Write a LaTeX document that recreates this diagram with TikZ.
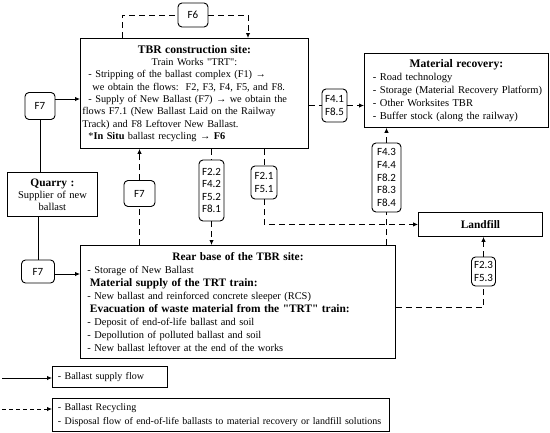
\documentclass[tikz,border=0pt]{standalone}
\usepackage{fontspec}
\setmainfont{Liberation Serif}
\newfontfamily\flowfont{Carlito}
\usetikzlibrary{arrows.meta}
\newcommand\dq{\XeTeXglyph\XeTeXcharglyph"22\relax}
\newcommand\bodyfont{\fontsize{10.3}{12.3}\selectfont}
\newcommand\headfont{\fontsize{11.6}{12.3}\selectfont\bfseries}
\begin{document}
\begin{tikzpicture}[x=1pt,y=-1pt,
  box/.style={draw, line width=0.9pt, inner sep=0pt, anchor=north west},
  flow/.style={draw, rounded corners=4pt, line width=0.9pt, font=\flowfont\fontsize{11}{12.6}\selectfont, align=left, inner sep=1pt},
  sol/.style={line width=0.9pt, -{Latex[length=5pt,width=4.5pt]}},
  plain/.style={line width=0.9pt},
  dsh/.style={line width=0.9pt, dash pattern=on 6pt off 4pt},
  dsha/.style={dsh, -{Latex[length=5pt,width=4.5pt]}},
  legdsh/.style={line width=0.9pt, dash pattern=on 4pt off 3pt, -{Latex[length=5pt,width=4.5pt]}}
]
\useasboundingbox (0,0) rectangle (550,432);

% main boxes
\node[box, minimum width=228pt, minimum height=110pt, text width=226pt, align=left,
      font=\bodyfont] (tbr) at (80,38) {%
\makebox[226pt]{\headfont TBR construction site:}\\
\makebox[226pt]{Train Works \dq{}TRT\dq{}:}\\
\hspace*{7pt}- Stripping of the ballast complex (F1) →\\
\hspace*{11pt}we obtain the flows:\ \ F2, F3, F4, F5, and F8.\\
\hspace*{7pt}- Supply of New Ballast (F7) → we obtain the\\
\hspace*{1pt}flows F7.1 (New Ballast Laid on the Railway\\
\hspace*{1pt}Track) and F8 Leftover New Ballast.\\
{\hspace*{7pt}*\textbf{In Situ} ballast recycling → \textbf{F6}}};

\node[box, minimum width=315pt, minimum height=113pt, text width=311pt, align=left,
      font=\fontsize{10.4}{12.9}\selectfont] (rear) at (80,245) {%
\makebox[311pt]{\fontsize{11.4}{12.9}\selectfont\bfseries Rear base of the TBR site:}\\
\hspace*{5pt}- Storage of New Ballast\\
{\hspace*{7.5pt}\fontsize{11.4}{12.9}\selectfont\bfseries Material supply of the TRT train:}\\
\hspace*{5pt}- New ballast and reinforced concrete sleeper (RCS)\\
{\hspace*{7.5pt}\fontsize{11.4}{12.9}\selectfont\bfseries Evacuation of waste material from the \dq{}TRT\dq{} train:}\\
\hspace*{5pt}- Deposit of end-of-life ballast and soil\\
\hspace*{5pt}- Depollution of polluted ballast and soil\\
\hspace*{5pt}- New ballast leftover at the end of the works};

\node[box, minimum width=184pt, minimum height=74pt, text width=182pt, align=left,
      font=\fontsize{10.5}{13}\selectfont] (mr) at (364,53) {%
\makebox[182pt]{\fontsize{11.6}{13}\selectfont\bfseries Material recovery:}\\
\hspace*{7.5pt}- Road technology\\
\hspace*{7.5pt}- Storage (Material Recovery Platform)\\
\hspace*{7.5pt}- Other Worksites TBR\\
\hspace*{7.5pt}- Buffer stock (along the railway)};

\node[box, minimum width=90pt, minimum height=44pt, text width=88pt, align=center,
      font=\fontsize{10.5}{12}\selectfont] (quarry) at (7,172) {%
{\fontsize{11.4}{12}\selectfont\bfseries Quarry :}\\ Supplier of new\\ ballast};

\node[box, minimum width=124pt, minimum height=24pt, font=\fontsize{11.4}{12}\selectfont\bfseries] (landfill) at (418,212) {Landfill};

% flow labels
\node[flow, minimum width=30pt, minimum height=24pt, align=center] (f6) at (193,15) {F6};
\node[flow, minimum width=30pt, minimum height=27pt, align=center] (f7a) at (40,106) {F7};
\node[flow, minimum width=31pt, minimum height=26pt, align=center] (f7c) at (139.5,193.5) {F7};
\node[flow, minimum width=33pt, minimum height=23pt, align=center] (f7b) at (38,271.5) {F7};
\node[flow, minimum width=25pt, minimum height=61pt] (f22) at (211.5,190.5) {F2.2\\F4.2\\F5.2\\F8.1};
\node[flow, minimum width=26pt, minimum height=33pt] (f21) at (264,182.5) {F2.1\\F5.1};
\node[flow, minimum width=25pt, minimum height=33pt] (f41) at (334.5,105.5) {F4.1\\F8.5};
\node[flow, minimum width=29pt, minimum height=69pt] (f43) at (386.5,177.5) {F4.3\\F4.4\\F8.2\\F8.3\\F8.4};
\node[flow, minimum width=24pt, minimum height=29pt] (f23) at (483.5,271.5) {F2.3\\F5.3};

% connectors
\draw[dsh] ([xshift=42pt]tbr.north west) |- (f6.west);
\draw[dsha] (f6.east) -| ([xshift=168pt]tbr.north west);

\draw[sol] ([yshift=7pt]f7a.east) -- ([yshift=7pt]f7a.east -| tbr.west);
\draw[plain] (f7a.south) -- (f7a.south |- quarry.north);
\draw[plain] (f7b.north |- quarry.south) -- (f7b.north);
\draw[sol] ([yshift=-2.5pt]f7b.east) -- ([yshift=-2.5pt]f7b.east -| rear.west);

\draw[dsh] (f7c.south |- rear.north) -- (f7c.south);
\draw[dsha] (f7c.north) -- (f7c.north |- tbr.south);

\draw[dsh] (f22.north |- tbr.south) -- (f22.north);
\draw[dsha] (f22.south) -- (f22.south |- rear.north);

\draw[dsh] (f21.north |- tbr.south) -- (f21.north);
\draw[dsha] (f21.south) |- (landfill.west);

\draw[dsh] (f41.west -| tbr.east) -- (f41.west);
\draw[dsha] (f41.east) -- (f41.east -| mr.west);

\draw[dsh] (f43.south |- rear.north) -- (f43.south);
\draw[dsha] (f43.north) -- (f43.north |- mr.south);

\draw[dsh] ([yshift=-5.5pt]rear.east) -| (f23.south);
\draw[dsha] (f23.north) -- (f23.north |- landfill.south);

% legend
\node[box, minimum width=115pt, minimum height=21pt, text width=104pt, align=left,
      font=\fontsize{10}{12}\selectfont] (leg1) at (52,366) {- Ballast supply flow};
\node[box, minimum width=337pt, minimum height=33pt, text width=326pt, align=left,
      font=\fontsize{10}{13.5}\selectfont] (leg2) at (52,398) {- Ballast Recycling\\- Disposal flow of end-of-life ballasts to material recovery or landfill solutions};
\coordinate (la) at (2,378);
\coordinate (lb) at (2,409);
\draw[sol] (la) -- (la -| leg1.west);
\draw[legdsh] (lb) -- (lb -| leg2.west);
\end{tikzpicture}
\end{document}
